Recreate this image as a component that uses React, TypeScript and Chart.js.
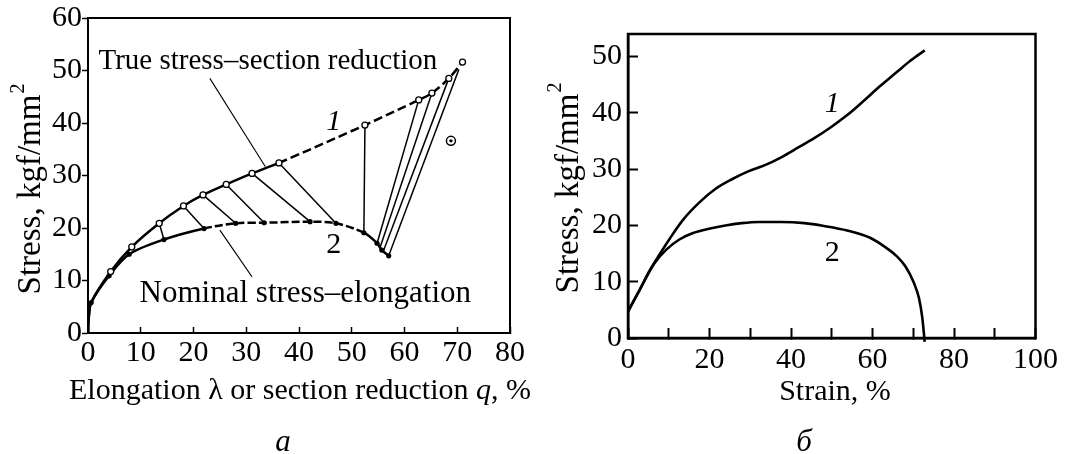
import React, { useEffect, useRef } from 'react';
import { Chart, registerables } from 'chart.js';

Chart.register(...registerables);

const SERIF = '"Liberation Serif", "Times New Roman", serif';

// ---------- Panel a: true stress (curve 1) and nominal stress (curve 2) ----------
const trueX = [0, 0.15, 0.6, 4.3, 8.3, 13.5, 18.1, 21.8, 26.2, 31.1, 36.2, 52.5, 62.7, 65.2, 68.4, 71.0];
const trueY = [0, 3.0, 5.8, 11.7, 16.4, 20.9, 24.2, 26.3, 28.3, 30.4, 32.4, 39.6, 44.4, 45.7, 48.5, 51.6];

const nomX = [0, 0.15, 0.6, 4.0, 7.8, 14.4, 22.0, 28.0, 33.4, 42.1, 47.0, 52.3, 54.8, 55.7, 57.0];
const nomY = [0, 3.0, 5.8, 10.9, 15.0, 17.8, 19.9, 20.9, 21.0, 21.2, 20.9, 19.1, 17.1, 15.8, 14.7];

// correspondence lines (true point -> nominal point)
const tieFromX = [13.5, 18.1, 21.8, 26.2, 31.1, 36.2, 52.5, 62.7, 65.2, 68.4, 70.3];
const tieFromY = [20.9, 24.2, 26.3, 28.3, 30.4, 32.4, 39.6, 44.4, 45.7, 48.5, 50.2];
const tieToX = [14.4, 22.0, 28.0, 33.4, 42.1, 47.0, 52.3, 54.8, 55.4, 56.0, 57.0];
const tieToY = [17.8, 19.9, 20.9, 21.0, 21.2, 20.9, 19.1, 17.1, 16.4, 15.6, 14.7];

// annotation pointer lines
const truePtrX = [23.1, 33.6];
const truePtrY = [48.5, 31.7];
const nomPtrX = [25.0, 31.1];
const nomPtrY = [19.6, 10.7];

// isolated marker
const ringX = [68.8];
const ringY = [36.6];

// annotations (data coordinates)
const aNoteText = ['True stress\u2013section reduction', 'Nominal stress\u2013elongation'];
const aNoteX = [34.1, 41.2];
const aNoteY = [50.2, 5.96];
const aCurveLabel = ['1', '2'];
const aCurveLabelX = [46.6, 46.6];
const aCurveLabelY = [40.2, 16.8];

// ---------- Panel б ----------
const b1X = [0, 2.9, 5.3, 7.7, 10.2, 13.4, 17.4, 21.5, 25.5, 29.5, 33.6, 37.6, 41.7, 45.7, 49.7, 53.8, 57.8, 61.8, 65.9, 69.2, 72.8];
const b1Y = [4.7, 8.6, 11.9, 14.8, 17.6, 20.9, 24.0, 26.5, 28.2, 29.6, 30.7, 32.1, 33.8, 35.5, 37.4, 39.6, 42.1, 44.7, 47.2, 49.2, 51.1];

const b2X = [0, 2.9, 5.3, 6.5, 9.4, 12.6, 15.8, 19.9, 23.9, 27.9, 32.0, 37.6, 43.3, 48.1, 53.8, 59.4, 63.4, 66.0, 68.1, 70.1, 71.4, 72.2, 72.6, 72.8];
const b2Y = [4.7, 8.6, 11.9, 13.3, 15.7, 17.5, 18.6, 19.4, 20.0, 20.4, 20.6, 20.6, 20.4, 19.9, 19.1, 17.8, 16.0, 14.5, 12.7, 9.9, 7.1, 3.7, 0.9, -0.7];

const bXLabelled = [0, 20, 40, 60, 80, 100];
const bCurveLabel = ['1', '2'];
const bCurveLabelX = [50.1, 50.1];
const bCurveLabelY = [41.6, 15.1];

const pts = (xs: number[], ys: number[]) => xs.map((x, i) => ({ x, y: ys[i] }));

function drawYTitle(ctx: CanvasRenderingContext2D, baseX: number, centerY: number, size: number, supSize: number, supRise: number) {
  ctx.save();
  ctx.translate(baseX, centerY);
  ctx.rotate(-Math.PI / 2);
  const main = 'Stress, kgf/mm';
  ctx.font = `${size}px ${SERIF}`;
  const wMain = ctx.measureText(main).width;
  ctx.font = `${supSize}px ${SERIF}`;
  const wSup = ctx.measureText('2').width;
  const start = -(wMain + 1 + wSup) / 2;
  ctx.textAlign = 'left';
  ctx.textBaseline = 'alphabetic';
  ctx.font = `${size}px ${SERIF}`;
  ctx.fillText(main, start, 0);
  ctx.font = `${supSize}px ${SERIF}`;
  ctx.fillText('2', start + wMain + 1, -supRise);
  ctx.restore();
}

function drawRuns(ctx: CanvasRenderingContext2D, runs: { t: string; italic?: boolean }[], cx: number, baseline: number, size: number) {
  const fonts = runs.map((r) => `${r.italic ? 'italic ' : ''}${size}px ${SERIF}`);
  let total = 0;
  const ws = runs.map((r, i) => {
    ctx.font = fonts[i];
    const w = ctx.measureText(r.t).width;
    total += w;
    return w;
  });
  let x = cx - total / 2;
  ctx.textAlign = 'left';
  ctx.textBaseline = 'alphabetic';
  runs.forEach((r, i) => {
    ctx.font = fonts[i];
    ctx.fillText(r.t, x, baseline);
    x += ws[i];
  });
}

function makeDecor(frameWidth: number, drawTexts: (chart: any, ctx: CanvasRenderingContext2D) => void) {
  return {
    id: 'decor',
    afterDraw(chart: any) {
      const { ctx, chartArea: a } = chart;
      ctx.save();
      ctx.strokeStyle = '#000';
      ctx.lineWidth = frameWidth;
      ctx.strokeRect(a.left, a.top, a.right - a.left, a.bottom - a.top);
      ctx.fillStyle = '#000';
      drawTexts(chart, ctx);
      ctx.restore();
    },
  };
}

const tickFont = { family: SERIF, size: 30 };

const common = {
  animation: false as const,
  responsive: false,
  devicePixelRatio: 1,
  events: [] as any[],
  plugins: { legend: { display: false }, tooltip: { enabled: false } },
};

export default function App() {
  const refA = useRef<HTMLCanvasElement | null>(null);
  const refB = useRef<HTMLCanvasElement | null>(null);

  useEffect(() => {
    if (!refA.current || !refB.current) return;

    const ties = tieFromX.map((_, i) => ({
      data: [
        { x: tieFromX[i], y: tieFromY[i] },
        { x: tieToX[i], y: tieToY[i] },
      ],
      showLine: true,
      borderColor: '#000',
      borderWidth: 1.5,
      pointRadius: 0,
      tension: 0,
    }));

    const chartA = new Chart(refA.current, {
      type: 'scatter',
      data: {
        datasets: [
          {
            data: pts(trueX, trueY),
            showLine: true,
            borderColor: '#000',
            borderWidth: 2.5,
            tension: 0.3,
            pointRadius: (c: any) => (c.dataIndex < 3 ? 0 : 3),
            pointBackgroundColor: '#fff',
            pointBorderColor: '#000',
            pointBorderWidth: 1.3,
            segment: { borderDash: (c: any) => (c.p0.parsed.x >= 36 ? [9, 4] : undefined) },
          } as any,
          {
            data: pts(nomX, nomY),
            showLine: true,
            borderColor: '#000',
            borderWidth: 2.5,
            tension: 0.3,
            pointRadius: (c: any) => (c.dataIndex < 2 ? 0 : 2.6),
            pointBackgroundColor: '#000',
            pointBorderColor: '#000',
            pointBorderWidth: 0,
            segment: {
              borderDash: (c: any) => (c.p0.parsed.x >= 21 && c.p0.parsed.x < 52 ? [8, 3] : undefined),
            },
          } as any,
          {
            data: pts(ringX, ringY),
            pointRadius: 1.7,
            pointBackgroundColor: '#000',
            pointBorderWidth: 0,
          },
          {
            data: pts(ringX, ringY),
            pointRadius: 4.5,
            pointBackgroundColor: '#fff',
            pointBorderColor: '#000',
            pointBorderWidth: 1.5,
          },
          ...ties,
          {
            data: pts(truePtrX, truePtrY),
            showLine: true,
            borderColor: '#000',
            borderWidth: 1.1,
            pointRadius: 0,
          },
          {
            data: pts(nomPtrX, nomPtrY),
            showLine: true,
            borderColor: '#000',
            borderWidth: 1.1,
            pointRadius: 0,
          },
        ],
      },
      options: {
        ...common,
        layout: { padding: { left: 0, top: 18, right: 30, bottom: 0 } },
        scales: {
          x: {
            type: 'linear',
            min: 0,
            max: 80,
            afterFit: (s: any) => {
              s.height = 121;
            },
            ticks: { stepSize: 10, color: '#000', font: tickFont, padding: 8, maxRotation: 0, autoSkip: false },
            grid: { drawOnChartArea: false, color: '#000', tickLength: -6, tickWidth: 1.5 },
            border: { display: true, color: '#000', width: 2 },
          },
          y: {
            type: 'linear',
            min: 0,
            max: 60,
            afterFit: (s: any) => {
              s.width = 88;
            },
            ticks: { stepSize: 10, color: '#000', font: tickFont, padding: 0, autoSkip: false },
            grid: { drawOnChartArea: false, color: '#000', tickLength: 6, tickWidth: 1.5 },
            border: { display: true, color: '#000', width: 2 },
          },
        },
      } as any,
      plugins: [
        makeDecor(2, (chart, ctx) => {
          const sx = chart.scales.x;
          const sy = chart.scales.y;
          ctx.textAlign = 'center';
          ctx.textBaseline = 'alphabetic';
          const noteSizes = [29, 31];
          aNoteText.forEach((t, i) => {
            ctx.font = `${noteSizes[i]}px ${SERIF}`;
            ctx.fillText(t, sx.getPixelForValue(aNoteX[i]), sy.getPixelForValue(aNoteY[i]));
          });
          ctx.textBaseline = 'middle';
          aCurveLabel.forEach((t, i) => {
            ctx.font = `${i === 0 ? 'italic ' : ''}30px ${SERIF}`;
            ctx.fillText(t, sx.getPixelForValue(aCurveLabelX[i]), sy.getPixelForValue(aCurveLabelY[i]));
          });
          drawYTitle(ctx, 40, 189, 33, 20, 16);
          drawRuns(
            ctx,
            [{ t: 'Elongation \u03bb or section reduction ' }, { t: 'q', italic: true }, { t: ', %' }],
            300,
            399,
            30
          );
          drawRuns(ctx, [{ t: 'a', italic: true }], 283, 451, 31);
        }),
      ],
    });

    const chartB = new Chart(refB.current, {
      type: 'scatter',
      data: {
        datasets: [
          {
            data: pts(b1X, b1Y),
            showLine: true,
            borderColor: '#000',
            borderWidth: 2.6,
            cubicInterpolationMode: 'monotone',
            pointRadius: 0,
          } as any,
          {
            data: pts(b2X, b2Y),
            showLine: true,
            borderColor: '#000',
            borderWidth: 2.6,
            cubicInterpolationMode: 'monotone',
            pointRadius: 0,
            clip: 10,
          } as any,
        ],
      },
      options: {
        ...common,
        layout: { padding: { left: 0, top: 16, right: 32, bottom: 0 } },
        scales: {
          x: {
            type: 'linear',
            min: 0,
            max: 100,
            afterFit: (s: any) => {
              s.height = 116;
            },
            ticks: {
              stepSize: 10,
              color: '#000',
              font: tickFont,
              padding: 14,
              maxRotation: 0,
              autoSkip: false,
              callback: (v: any) => (bXLabelled.includes(Number(v)) ? String(v) : ''),
            },
            grid: { drawOnChartArea: false, color: '#000', tickLength: -10, tickWidth: 2 },
            border: { display: true, color: '#000', width: 2.5 },
          },
          y: {
            type: 'linear',
            min: 0,
            max: 54,
            afterFit: (s: any) => {
              s.width = 88;
            },
            ticks: { stepSize: 10, includeBounds: false, color: '#000', font: tickFont, padding: 16, autoSkip: false },
            grid: { drawOnChartArea: false, color: '#000', tickLength: -10, tickWidth: 2 },
            border: { display: true, color: '#000', width: 2.5 },
          },
        },
      } as any,
      plugins: [
        makeDecor(2.5, (chart, ctx) => {
          const sx = chart.scales.x;
          const sy = chart.scales.y;
          ctx.textAlign = 'center';
          ctx.textBaseline = 'middle';
          bCurveLabel.forEach((t, i) => {
            ctx.font = `${i === 0 ? 'italic ' : ''}30px ${SERIF}`;
            ctx.fillText(t, sx.getPixelForValue(bCurveLabelX[i]), sy.getPixelForValue(bCurveLabelY[i]));
          });
          drawYTitle(ctx, 38, 188, 33, 20, 17);
          drawRuns(ctx, [{ t: 'Strain, %' }], 295, 400, 30);
          drawRuns(ctx, [{ t: '\u0431', italic: true }], 264, 451, 31);
        }),
      ],
    });

    return () => {
      chartA.destroy();
      chartB.destroy();
    };
  }, []);

  return (
    <div style={{ position: 'absolute', left: 0, top: 0, width: 1072, height: 454, background: '#fff', overflow: 'hidden' }}>
      <canvas ref={refA} width={540} height={454} style={{ position: 'absolute', left: 0, top: 0 }} />
      <canvas ref={refB} width={532} height={454} style={{ position: 'absolute', left: 540, top: 0 }} />
    </div>
  );
}
